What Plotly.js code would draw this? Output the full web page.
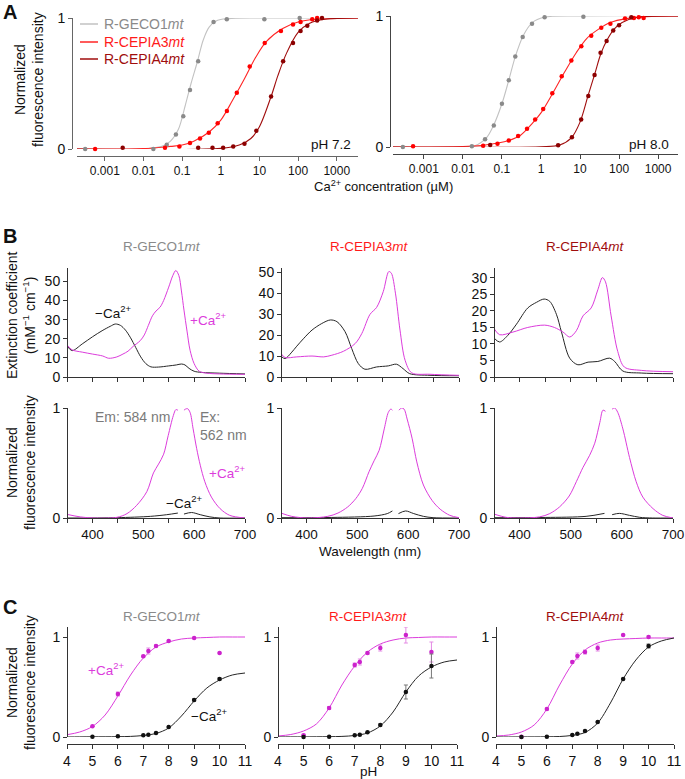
<!DOCTYPE html>
<html><head><meta charset="utf-8">
<script src="https://cdn.plot.ly/plotly-3.0.1.min.js"></script>
<style>html,body{margin:0;padding:0;background:#fff}#chart{width:685px;height:779px}</style>
</head><body><div id="chart"></div>
<script>
// ================= DATA =================
// Panel A, pH 7.2 (Ca2+ titration, µM)
const gecoPts72X = [0.00031, 0.018, 0.040, 0.069, 0.107, 0.16, 0.26, 0.65, 1.43, 13.4, 110];
const gecoPts72Y = [0, 0, 0.033, 0.11, 0.25, 0.45, 0.67, 0.97, 0.99, 0.99, 1.0];
const cepia3Pts72X = [0.00056, 0.036, 0.085, 0.16, 0.29, 0.49, 0.83, 1.44, 2.6, 5.6, 13.7, 36, 74, 116, 232, 311];
const cepia3Pts72Y = [0, 0.01, 0.02, 0.046, 0.08, 0.125, 0.196, 0.29, 0.43, 0.63, 0.81, 0.90, 0.95, 0.97, 0.99, 1.0];
const cepia4Pts72X = [0.0029, 0.26, 0.61, 1.15, 2.1, 4.1, 8.3, 20, 41, 74, 116, 173, 311, 416];
const cepia4Pts72Y = [0.01, 0.01, 0.01, 0.01, 0.02, 0.04, 0.14, 0.40, 0.67, 0.81, 0.90, 0.94, 0.98, 1.0];
const gecoFit72X = [0.0001, 0.01, 0.03, 0.05, 0.08, 0.12, 0.17, 0.25, 0.35, 0.5, 0.8, 1.5, 10, 4000];
const gecoFit72Y = [0, 0.003, 0.02, 0.06, 0.15, 0.33, 0.5, 0.67, 0.83, 0.93, 0.98, 0.995, 1, 1];
const cepia3Fit72X = [0.0001, 0.01, 0.05, 0.1, 0.2, 0.5, 1, 2, 4, 8, 15, 40, 100, 300, 4000];
const cepia3Fit72Y = [0, 0.003, 0.02, 0.03, 0.06, 0.13, 0.22, 0.37, 0.53, 0.70, 0.82, 0.92, 0.97, 0.99, 1];
const cepia4Fit72X = [0.0001, 1, 3, 6, 10, 20, 30, 50, 100, 200, 500, 4000];
const cepia4Fit72Y = [0, 0.005, 0.03, 0.08, 0.17, 0.40, 0.56, 0.73, 0.89, 0.96, 0.99, 1];
// Panel A, pH 8.0
const gecoPts80X = [0.00029, 0.017, 0.037, 0.062, 0.10, 0.15, 0.22, 0.34, 0.59, 1.24, 12.2];
const gecoPts80Y = [0, 0.005, 0.06, 0.165, 0.33, 0.51, 0.69, 0.84, 0.94, 0.99, 0.995];
const cepia3Pts80X = [0.00053, 0.033, 0.077, 0.15, 0.26, 0.44, 0.71, 1.14, 1.95, 3.4, 6.0, 10.8, 19.4, 35, 60, 142, 240, 320, 426];
const cepia3Pts80Y = [0.005, 0.01, 0.025, 0.05, 0.084, 0.14, 0.21, 0.29, 0.41, 0.54, 0.66, 0.77, 0.85, 0.91, 0.94, 0.98, 0.985, 0.99, 0.985];
const cepia4Pts80X = [0.050, 2.75, 6.2, 10.7, 16.3, 23.6, 33.6, 48, 71, 100, 206];
const cepia4Pts80Y = [0.015, 0.013, 0.074, 0.21, 0.39, 0.55, 0.72, 0.81, 0.89, 0.93, 0.99];
const gecoFit80X = [0.0001, 0.01, 0.02, 0.04, 0.06, 0.1, 0.15, 0.22, 0.35, 0.6, 1.2, 10, 4000];
const gecoFit80Y = [0, 0.003, 0.01, 0.07, 0.16, 0.33, 0.51, 0.69, 0.85, 0.95, 0.99, 1, 1];
const cepia3Fit80X = [0.0001, 0.01, 0.03, 0.08, 0.15, 0.3, 0.6, 1, 2, 4, 8, 15, 30, 60, 150, 500, 4000];
const cepia3Fit80Y = [0, 0.004, 0.012, 0.03, 0.05, 0.09, 0.18, 0.26, 0.41, 0.57, 0.72, 0.83, 0.90, 0.95, 0.98, 0.995, 1];
const cepia4Fit80X = [0.0001, 1, 3, 6, 10, 16, 24, 34, 50, 75, 120, 300, 4000];
const cepia4Fit80Y = [0, 0.002, 0.015, 0.07, 0.19, 0.39, 0.56, 0.71, 0.82, 0.90, 0.95, 0.99, 1];
const caTickVals = [0.001, 0.01, 0.1, 1, 10, 100, 1000];
const caTickText = ['0.001', '0.01', '0.1', '1', '10', '100', '1000'];

// Panel B, absorbance (extinction coefficient, mM-1 cm-1)
const gecoAbsNoCaWl = [350, 360, 380, 400, 419, 435, 445, 455, 465, 475, 485, 495, 505, 515, 530, 550, 565, 575, 582, 590, 600, 615, 650, 700];
const gecoAbsNoCa   = [16.3, 13.8, 17.3, 21, 24.2, 26.5, 27.7, 27, 24.5, 20.5, 15.5, 10.5, 7, 5.3, 5.2, 5.8, 6.3, 6.8, 6.3, 4.5, 3, 2.4, 2, 1.6];
const gecoAbsCaWl = [350, 360, 380, 400, 420, 432, 448, 460, 470, 480, 494, 502, 510, 518, 525, 533, 540, 550, 558, 564, 570, 575, 580, 586, 592, 600, 610, 625, 650, 700];
const gecoAbsCa   = [16.8, 14.2, 13, 12, 11, 9.8, 10.5, 12, 13.5, 16, 19, 22, 27, 32, 34.5, 36.5, 40, 47, 53, 55.7, 53, 45, 35, 24, 14, 7, 3, 2, 1.6, 1.4];
const cepia3AbsNoCaWl = [350, 358, 370, 381, 395, 411, 430, 447, 460, 476, 489, 502, 515, 538, 561, 577, 590, 603, 643, 700];
const cepia3AbsNoCa   = [9.9, 8.8, 11.5, 14.7, 18.5, 22.4, 25.5, 27.2, 26.4, 21.6, 13.6, 6.4, 3.7, 4.8, 5.3, 6.1, 4, 1.6, 0.8, 0.6];
const cepia3AbsCaWl = [350, 358, 381, 411, 434, 450, 473, 496, 509, 525, 538, 551, 562, 567, 575, 584, 594, 607, 643, 700];
const cepia3AbsCa   = [11.2, 9.3, 9.6, 10, 9.6, 10.4, 12.3, 16, 20.8, 29.9, 33.2, 40.7, 50.3, 49.5, 40, 22.4, 8, 2, 1.3, 0.8];
const cepia4AbsNoCaWl = [350, 361, 377, 394, 416, 433, 448, 459, 472, 482, 498, 514, 534, 553, 576, 586, 602, 638, 700];
const cepia4AbsNoCa   = [11.8, 10.6, 12.6, 16, 20.9, 22.6, 23.6, 22.9, 19, 13.6, 5.7, 3.7, 4.5, 4.7, 5.7, 4.7, 1.8, 1.2, 1];
const cepia4AbsCaWl = [350, 361, 387, 416, 449, 468, 485, 498, 511, 524, 540, 553, 562, 568, 579, 592, 605, 638, 700];
const cepia4AbsCa   = [14.7, 12.8, 13.6, 15, 15.7, 15, 13.6, 12.1, 14, 18.5, 20.9, 26.4, 30.1, 28.8, 18.5, 7.7, 3, 2, 1.6];

// Panel B, normalized fluorescence (excitation | emission)
const gecoExCaWl = [350, 376, 402, 448, 468, 487, 507, 520, 530, 540, 549, 559, 564, 568];
const gecoExCa   = [0.033, 0.01, 0, 0.006, 0.04, 0.115, 0.24, 0.41, 0.49, 0.58, 0.75, 0.93, 0.985, 0.98];
const gecoEmCaWl = [580, 583, 587, 592, 598, 605, 612, 621, 634, 651, 670, 700];
const gecoEmCa   = [0.98, 0.99, 0.994, 0.96, 0.81, 0.63, 0.48, 0.33, 0.19, 0.085, 0.024, 0];
const gecoExNoCaWl = [350, 448, 514, 546, 568];
const gecoExNoCa   = [0, 0.003, 0.015, 0.03, 0.045];
const gecoEmNoCaWl = [580, 595, 612, 631, 651, 700];
const gecoEmNoCa   = [0.036, 0.05, 0.03, 0.01, 0, 0];
const cepia3ExCaWl = [350, 371, 403, 442, 462, 481, 497, 510, 523, 533, 543, 553, 561, 566, 569];
const cepia3ExCa   = [0.045, 0.015, 0, 0.015, 0.045, 0.1, 0.176, 0.27, 0.42, 0.52, 0.615, 0.81, 0.96, 0.99, 0.98];
const cepia3EmCaWl = [582, 587, 592, 598, 608, 617, 630, 647, 663, 682, 700];
const cepia3EmCa   = [0.98, 1.0, 0.99, 0.9, 0.72, 0.51, 0.3, 0.16, 0.08, 0.024, 0.003];
const cepia3ExNoCaWl = [350, 450, 533, 559, 569];
const cepia3ExNoCa   = [0.003, 0.005, 0.018, 0.04, 0.064];
const cepia3EmNoCaWl = [581, 595, 611, 630, 649, 700];
const cepia3EmNoCa   = [0.04, 0.064, 0.04, 0.015, 0.003, 0];
const cepia4ExCaWl = [350, 374, 400, 439, 459, 478, 497, 511, 524, 537, 547, 557, 563, 568];
const cepia4ExCa   = [0.036, 0.006, 0, 0.01, 0.04, 0.1, 0.2, 0.33, 0.46, 0.57, 0.68, 0.87, 0.98, 0.97];
const cepia4EmCaWl = [581, 586, 592, 602, 615, 628, 641, 661, 680, 700];
const cepia4EmCa   = [0.99, 1.0, 0.96, 0.81, 0.55, 0.33, 0.19, 0.085, 0.024, 0];
const cepia4ExNoCaWl = [350, 450, 530, 566];
const cepia4ExNoCa   = [0.003, 0.005, 0.015, 0.042];
const cepia4EmNoCaWl = [581, 595, 615, 635, 660, 700];
const cepia4EmNoCa   = [0.03, 0.042, 0.024, 0.006, 0, 0];
const wlTickAll = [350, 400, 450, 500, 550, 600, 650, 700];
const wlTickMajor = [400, 500, 600, 700];
const wlTickMinor = [350, 450, 550, 650];

// Panel C, pH titration
const phVals = [5, 6, 7, 7.2, 7.5, 8, 9, 10];
const gecoPhCa = [0.107, 0.43, 0.807, 0.86, 0.91, 0.96, 0.99, 0.84];
const gecoPhCaErr = [0, 0.02, 0.01, 0.03, 0.01, 0, 0, 0];
const gecoPhNoCa = [0.003, 0.007, 0.017, 0.023, 0.04, 0.10, 0.37, 0.58];
const gecoPhNoCaErr = [0, 0, 0, 0, 0, 0, 0.01, 0.01];
const cepia3PhCa = [0.017, 0.29, 0.72, 0.75, 0.84, 0.89, 1.02, 0.85];
const cepia3PhCaErr = [0.01, 0.015, 0.02, 0.03, 0.01, 0.03, 0.08, 0.1];
const cepia3PhNoCa = [0, 0.003, 0.017, 0.023, 0.047, 0.12, 0.45, 0.71];
const cepia3PhNoCaErr = [0, 0, 0, 0, 0, 0.01, 0.07, 0.12];
const cepia4PhCa = [0.003, 0.28, 0.75, 0.81, 0.85, 0.89, 1.02, 1.0];
const cepia4PhCaErr = [0, 0.01, 0.01, 0.03, 0.02, 0.03, 0, 0.01];
const cepia4PhNoCa = [0, 0.003, 0.02, 0.033, 0.06, 0.15, 0.58, 0.91];
const cepia4PhNoCaErr = [0, 0, 0, 0, 0, 0, 0, 0.02];
const phFitX = [4, 4.5, 5, 5.5, 6, 6.5, 7, 7.5, 8, 8.5, 9, 9.5, 10, 10.5, 11];
const gecoPhCaFit   = [0.023, 0.05, 0.105, 0.22, 0.41, 0.62, 0.79, 0.9, 0.95, 0.98, 0.99, 0.995, 1, 1, 1];
const gecoPhNoCaFit = [0, 0.001, 0.002, 0.002, 0.003, 0.006, 0.015, 0.035, 0.09, 0.21, 0.36, 0.49, 0.57, 0.62, 0.64];
const cepia3PhCaFit   = [0.01, 0.025, 0.06, 0.13, 0.29, 0.52, 0.71, 0.85, 0.93, 0.97, 0.99, 0.995, 1, 1, 1];
const cepia3PhNoCaFit = [0, 0.001, 0.001, 0.002, 0.003, 0.006, 0.015, 0.04, 0.11, 0.25, 0.45, 0.61, 0.7, 0.75, 0.77];
const cepia4PhCaFit   = [0.01, 0.02, 0.05, 0.12, 0.28, 0.52, 0.73, 0.87, 0.94, 0.97, 0.98, 0.985, 0.99, 0.99, 0.99];
const cepia4PhNoCaFit = [0, 0, 0.001, 0.001, 0.002, 0.005, 0.016, 0.045, 0.14, 0.34, 0.58, 0.77, 0.9, 0.96, 0.99];
const phTickVals = [4, 5, 6, 7, 8, 9, 10, 11];

// ================= STYLE / LAYOUT =================
const FONT = 'Liberation Sans, Arial, Helvetica, sans-serif';
const W = 685, H = 779;
const fx = p => p / W;
const fy = p => 1 - p / H;
const C_GRAYLINE = '#c2c2c2', C_GRAYMK = '#8a8a8a', C_GRAYTXT = '#8a8a8a';
const C_RED = '#ff2424', C_DRED = '#a00d0d', C_MAG = '#dc3cdc', C_BLK = '#262626';
const AX = '#333';

const layout = {
  width: W, height: H, margin: {l: 0, r: 0, t: 0, b: 0},
  paper_bgcolor: '#fff', plot_bgcolor: 'rgba(0,0,0,0)', showlegend: false,
  font: {family: FONT, size: 13, color: '#111'},
  annotations: [], shapes: []
};

const specs = [
  // A
  {x0: 77, x1: 358, yT: 18, yB: 149, xL: 156, yL: 72, xType: 'log', xR: [-3.72, 3.55], yR: [0, 1], xTV: caTickVals, xTT: caTickText, yTV: [0, 1], yTT: ['0', '1'], xf: 12, yf: 14, ac: '#666'},
  {x0: 393, x1: 678, yT: 16, yB: 147, xL: 154, yL: 390, xType: 'log', xR: [-3.79, 3.51], yR: [0, 1], xTV: caTickVals, xTT: caTickText, yTV: [0, 1], yTT: ['0', '1'], xf: 12, yf: 14, ac: '#444'},
  // B top (tick marks only on x)
  {x0: 67, x1: 245, yT: 268, yB: 377, xL: 377, yL: 67, xR: [350, 700], yR: [0, 57], xTV: wlTickAll, noXLabels: true, yTV: [0, 10, 20, 30, 40, 50], xf: 13, yf: 14},
  {x0: 281, x1: 459, yT: 268, yB: 377, xL: 377, yL: 281, xR: [350, 700], yR: [0, 52], xTV: wlTickAll, noXLabels: true, yTV: [0, 10, 20, 30, 40, 50], xf: 13, yf: 14},
  {x0: 494, x1: 673, yT: 268, yB: 377, xL: 377, yL: 494, xR: [350, 700], yR: [0, 33], xTV: wlTickAll, noXLabels: true, yTV: [0, 5, 10, 15, 20, 25, 30], xf: 13, yf: 14},
  // B bottom
  {x0: 67, x1: 245, yT: 408, yB: 518, xL: 518, yL: 67, xR: [350, 700], yR: [0, 1], xTV: wlTickMajor, xMinor: wlTickMinor, yTV: [0, 1], xf: 13.5, yf: 14},
  {x0: 281, x1: 459, yT: 408, yB: 518, xL: 518, yL: 281, xR: [350, 700], yR: [0, 1], xTV: wlTickMajor, xMinor: wlTickMinor, yTV: [0, 1], xf: 13.5, yf: 14},
  {x0: 494, x1: 673, yT: 408, yB: 518, xL: 518, yL: 494, xR: [350, 700], yR: [0, 1], xTV: wlTickMajor, xMinor: wlTickMinor, yTV: [0, 1], xf: 13.5, yf: 14},
  // C
  {x0: 67, x1: 245, yT: 627, yB: 737, xL: 744, yL: 67, xR: [4, 11], yR: [0, 1.1], xTV: phTickVals, yTV: [0, 1], xf: 14, yf: 14},
  {x0: 278, x1: 457, yT: 627, yB: 737, xL: 744, yL: 278, xR: [4, 11], yR: [0, 1.1], xTV: phTickVals, yTV: [0, 1], xf: 14, yf: 14},
  {x0: 496, x1: 674, yT: 627, yB: 737, xL: 744, yL: 496, xR: [4, 11], yR: [0, 1.1], xTV: phTickVals, yTV: [0, 1], xf: 14, yf: 14}
];

function axKey(c, n) { return n === 1 ? c + 'axis' : c + 'axis' + n; }
function axRef(c, n) { return n === 1 ? c : c + n; }

specs.forEach((s, i) => {
  const n = i + 1;
  const col = s.ac || AX;
  const common = {ticks: 'outside', ticklen: 4, tickwidth: 1, tickcolor: col, showline: true, linecolor: col, linewidth: 1,
    showgrid: false, zeroline: false, fixedrange: true, autorange: false, tickmode: 'array', anchor: 'free'};
  const xa = Object.assign({}, common, {domain: [fx(s.x0), fx(s.x1)], position: fy(s.xL), type: s.xType || 'linear',
    range: s.xR, tickvals: s.xTV, tickfont: {size: s.xf, color: '#111', family: FONT}});
  if (s.xTT) xa.ticktext = s.xTT;
  if (s.noXLabels) xa.showticklabels = false;
  if (s.xMinor) xa.minor = {tickmode: 'array', tickvals: s.xMinor, ticks: 'outside', ticklen: 4, tickwidth: 1, tickcolor: col, showgrid: false};
  const ya = Object.assign({}, common, {domain: [fy(s.yB), fy(s.yT)], position: fx(s.yL), type: 'linear',
    range: s.yR, tickvals: s.yTV, tickfont: {size: s.yf, color: '#111', family: FONT}});
  if (s.yTT) ya.ticktext = s.yTT;
  layout[axKey('x', n)] = xa;
  layout[axKey('y', n)] = ya;
});

const traces = [];
function curve(x, y, n, color, w) {
  traces.push({type: 'scatter', mode: 'lines', x: x, y: y, xaxis: axRef('x', n), yaxis: axRef('y', n),
    line: {color: color, width: w || 1, shape: 'spline', smoothing: 0.9}, hoverinfo: 'skip'});
}
function points(x, y, n, color, err, errColor) {
  const t = {type: 'scatter', mode: 'markers', x: x, y: y, xaxis: axRef('x', n), yaxis: axRef('y', n),
    marker: {size: 4.5, color: color}, cliponaxis: false, hoverinfo: 'skip'};
  if (err) t.error_y = {type: 'data', array: err, visible: true, color: errColor || color, thickness: 1, width: 2};
  traces.push(t);
}

// A
curve(gecoFit72X, gecoFit72Y, 1, C_GRAYLINE, 1.1);
curve(cepia3Fit72X, cepia3Fit72Y, 1, C_RED, 1.1);
curve(cepia4Fit72X, cepia4Fit72Y, 1, C_DRED, 1.1);
points(gecoPts72X, gecoPts72Y, 1, C_GRAYMK);
points(cepia3Pts72X, cepia3Pts72Y, 1, '#ff0000');
points(cepia4Pts72X, cepia4Pts72Y, 1, '#8c0000');
curve(gecoFit80X, gecoFit80Y, 2, C_GRAYLINE, 1.1);
curve(cepia3Fit80X, cepia3Fit80Y, 2, C_RED, 1.1);
curve(cepia4Fit80X, cepia4Fit80Y, 2, C_DRED, 1.1);
points(gecoPts80X, gecoPts80Y, 2, C_GRAYMK);
points(cepia3Pts80X, cepia3Pts80Y, 2, '#ff0000');
points(cepia4Pts80X, cepia4Pts80Y, 2, '#8c0000');

// B top
curve(gecoAbsNoCaWl, gecoAbsNoCa, 3, C_BLK);
curve(gecoAbsCaWl, gecoAbsCa, 3, C_MAG);
curve(cepia3AbsNoCaWl, cepia3AbsNoCa, 4, C_BLK);
curve(cepia3AbsCaWl, cepia3AbsCa, 4, C_MAG);
curve(cepia4AbsNoCaWl, cepia4AbsNoCa, 5, C_BLK);
curve(cepia4AbsCaWl, cepia4AbsCa, 5, C_MAG);
// B bottom
curve(gecoExNoCaWl, gecoExNoCa, 6, C_BLK);
curve(gecoEmNoCaWl, gecoEmNoCa, 6, C_BLK);
curve(gecoExCaWl, gecoExCa, 6, C_MAG);
curve(gecoEmCaWl, gecoEmCa, 6, C_MAG);
curve(cepia3ExNoCaWl, cepia3ExNoCa, 7, C_BLK);
curve(cepia3EmNoCaWl, cepia3EmNoCa, 7, C_BLK);
curve(cepia3ExCaWl, cepia3ExCa, 7, C_MAG);
curve(cepia3EmCaWl, cepia3EmCa, 7, C_MAG);
curve(cepia4ExNoCaWl, cepia4ExNoCa, 8, C_BLK);
curve(cepia4EmNoCaWl, cepia4EmNoCa, 8, C_BLK);
curve(cepia4ExCaWl, cepia4ExCa, 8, C_MAG);
curve(cepia4EmCaWl, cepia4EmCa, 8, C_MAG);

// C
curve(phFitX, gecoPhCaFit, 9, C_MAG);
curve(phFitX, gecoPhNoCaFit, 9, C_BLK);
points(phVals, gecoPhCa, 9, '#cc22cc', gecoPhCaErr, '#e48ae4');
points(phVals, gecoPhNoCa, 9, '#111', gecoPhNoCaErr, '#777');
curve(phFitX, cepia3PhCaFit, 10, C_MAG);
curve(phFitX, cepia3PhNoCaFit, 10, C_BLK);
points(phVals, cepia3PhCa, 10, '#cc22cc', cepia3PhCaErr, '#e48ae4');
points(phVals, cepia3PhNoCa, 10, '#111', cepia3PhNoCaErr, '#777');
curve(phFitX, cepia4PhCaFit, 11, C_MAG);
curve(phFitX, cepia4PhNoCaFit, 11, C_BLK);
points(phVals, cepia4PhCa, 11, '#cc22cc', cepia4PhCaErr, '#e48ae4');
points(phVals, cepia4PhNoCa, 11, '#111', cepia4PhNoCaErr, '#777');

// ================= TEXT =================
function note(text, x, y, opts) {
  opts = opts || {};
  layout.annotations.push({
    text: text, x: fx(x), y: fy(y), xref: 'paper', yref: 'paper', showarrow: false,
    xanchor: opts.xa || 'center', yanchor: opts.ya || 'middle', align: opts.align || 'center',
    textangle: opts.angle || 0, borderpad: 0,
    font: {family: FONT, size: opts.size || 13.5, color: opts.color || '#111'}
  });
}
// panel letters
note('<b>A</b>', 10, 0, {size: 20, ya: 'top'});
note('<b>B</b>', 10, 236, {size: 20});
note('<b>C</b>', 10, 607, {size: 20});
// A
note('Normalized<br>fluorescence intensity', 29, 80, {angle: -90, size: 14});
const legendNames = ['R-GECO1<i>mt</i>', 'R-CEPIA3<i>mt</i>', 'R-CEPIA4<i>mt</i>'];
const legendColors = [C_GRAYLINE, C_RED, C_DRED];
const legendTextColors = [C_GRAYTXT, '#ff1a1a', '#a00d0d'];
const legendRows = [24, 42, 59];
legendNames.forEach((nm, i) => {
  layout.shapes.push({type: 'line', xref: 'paper', yref: 'paper', x0: fx(80), x1: fx(98), y0: fy(legendRows[i]), y1: fy(legendRows[i]),
    line: {color: legendColors[i], width: 1.5}});
  note(nm, 103, legendRows[i], {xa: 'left', size: 14, color: legendTextColors[i]});
});
note('pH 7.2', 352, 145, {xa: 'right', size: 13.5});
note('pH 8.0', 670, 145, {xa: 'right', size: 13.5});
note('Ca<sup>2+</sup> concentration (µM)', 383, 186, {size: 13});
// B
note('R-GECO1<i>mt</i>', 162, 246, {color: C_GRAYTXT});
note('R-CEPIA3<i>mt</i>', 369, 246, {color: '#ff1a1a'});
note('R-CEPIA4<i>mt</i>', 585, 246, {color: '#a00d0d'});
note('Extinction coefficient<br>(mM<sup>−1</sup> cm<sup>−1</sup>)', 21, 316, {angle: -90, size: 14});
note('Normalized<br>fluorescence intensity', 21, 463, {angle: -90, size: 14});
note('−Ca<sup>2+</sup>', 113, 312);
note('+Ca<sup>2+</sup>', 208, 319, {color: C_MAG});
note('Em: 584 nm', 132, 417, {color: '#7a7a7a', size: 14});
note('Ex:<br>562 nm', 199, 426, {xa: 'left', align: 'left', color: '#7a7a7a', size: 14});
note('+Ca<sup>2+</sup>', 227, 472, {color: C_MAG});
note('−Ca<sup>2+</sup>', 184, 502);
note('Wavelength (nm)', 370, 551);
// C
note('R-GECO1<i>mt</i>', 162, 616, {color: C_GRAYTXT});
note('R-CEPIA3<i>mt</i>', 368, 616, {color: '#ff1a1a'});
note('R-CEPIA4<i>mt</i>', 585, 616, {color: '#a00d0d'});
note('Normalized<br>fluorescence intensity', 21, 683, {angle: -90, size: 14});
note('+Ca<sup>2+</sup>', 106, 669, {color: C_MAG});
note('−Ca<sup>2+</sup>', 209, 715);
note('pH', 368, 771);

Plotly.newPlot('chart', traces, layout, {staticPlot: true, displayModeBar: false});
</script>
</body></html>
